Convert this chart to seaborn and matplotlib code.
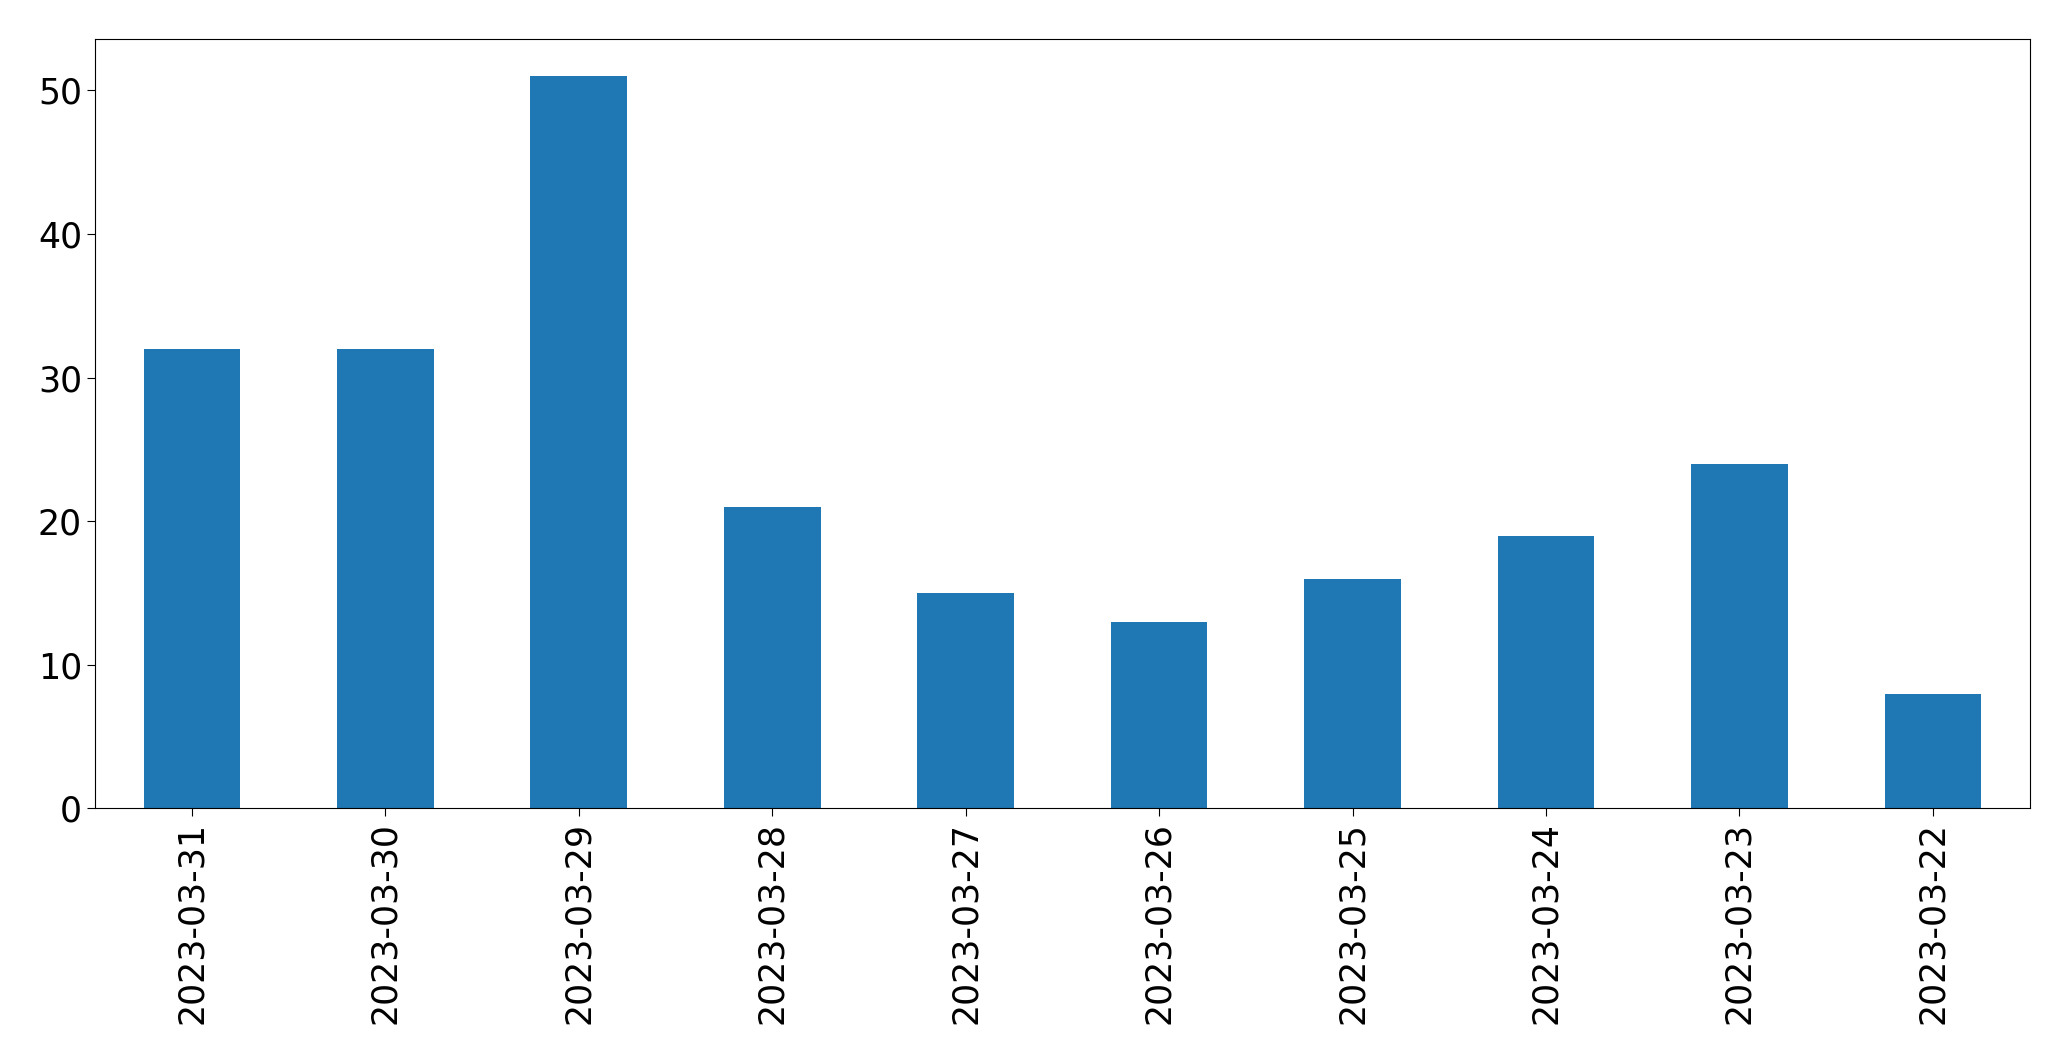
import matplotlib
matplotlib.use("Agg")
import matplotlib.pyplot as plt
import seaborn as sns
import pandas as pd

dates = ["2023-03-31", "2023-03-30", "2023-03-29", "2023-03-28", "2023-03-27",
         "2023-03-26", "2023-03-25", "2023-03-24", "2023-03-23", "2023-03-22"]
counts = [32, 32, 51, 21, 15, 13, 16, 19, 24, 8]

df = pd.DataFrame({"date": dates, "count": counts})

fig = plt.figure(figsize=(20.71, 10.61), dpi=100)
ax = fig.add_axes([0.046, 0.238, 0.934, 0.725])
sns.barplot(data=df, x="date", y="count", order=dates, color="#1f77b4",
            saturation=1, width=0.5, ax=ax)
ax.set_xlabel("")
ax.set_ylabel("")
ax.set_xlim(-0.5, len(dates) - 0.5)
ax.set_yticks([0, 10, 20, 30, 40, 50])
ax.tick_params(axis="both", labelsize=25, length=6)
for lab in ax.get_xticklabels():
    lab.set_rotation(90)
for s in ax.spines.values():
    s.set_visible(True)
    s.set_color("black")
fig.savefig("out.png", dpi=100)
